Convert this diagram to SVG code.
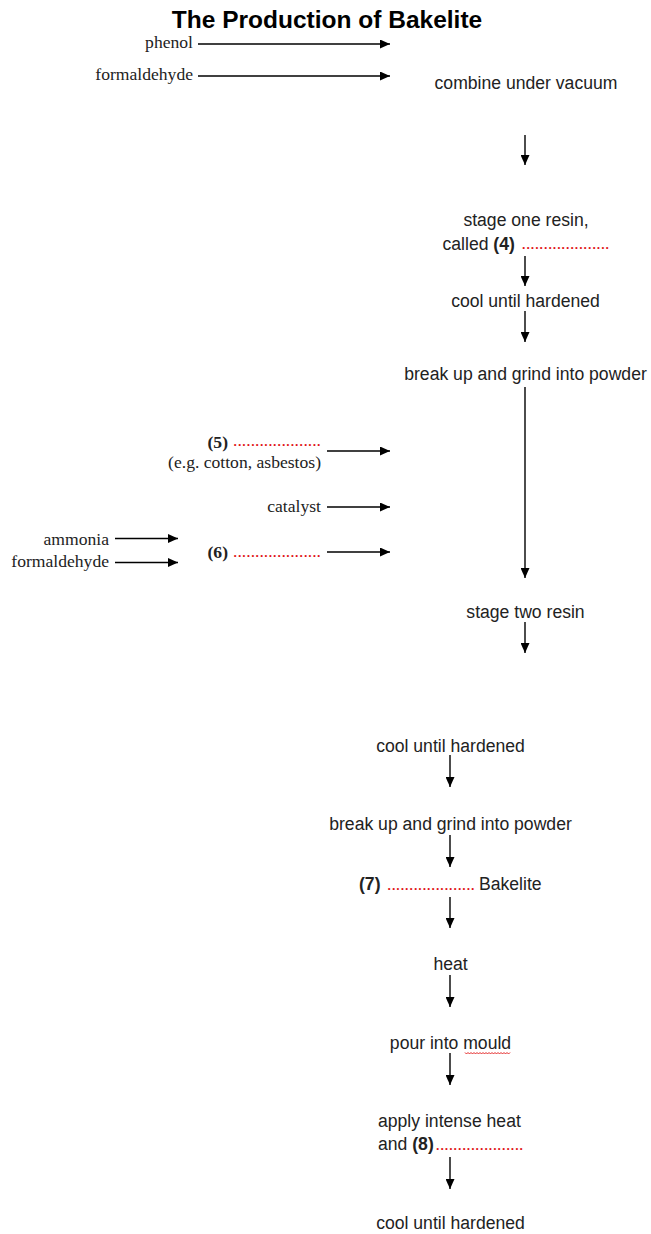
<svg xmlns="http://www.w3.org/2000/svg" width="651" height="1234" viewBox="0 0 651 1234">
<style>
.s{font-family:"Liberation Sans",Arial,sans-serif;font-size:17.6px;fill:#222}
.m{text-anchor:middle}
.e{text-anchor:end}
.b{font-weight:bold}
.r{font-family:"Liberation Serif","Times New Roman",serif;font-size:17.6px;fill:#222}
.d{font-family:"Liberation Serif","Times New Roman",serif;font-size:17.6px;fill:#e01010}
.t{font-family:"Liberation Sans",Arial,sans-serif;font-size:24.5px;font-weight:bold;fill:#000}
.c line{stroke:#000;stroke-width:1.4;marker-end:url(#ah)}
</style>
<defs>
<marker id="ah" markerUnits="userSpaceOnUse" markerWidth="10" markerHeight="9" refX="10" refY="4.5" orient="auto">
<path d="M0,0 L10,4.5 L0,9 z" fill="#000"/>
</marker>
</defs>
<rect width="651" height="1234" fill="#fff"/>
<g id="title"><text class="t m" x="327" y="27.5">The Production of Bakelite</text></g>

<g id="phenol"><text class="r e" x="193" y="48">phenol</text></g>
<g id="formaldehyde1"><text class="r e" x="193" y="80">formaldehyde</text></g>
<g id="combine"><text class="s m" x="526" y="89">combine under vacuum</text></g>
<g id="stage1"><text class="s m" x="526" y="226">stage one resin,</text>
<text class="s" x="442.5" y="250">called <tspan class="b">(4)</tspan></text>
<text class="d" x="521.5" y="249">....................</text></g>
<g id="cool1"><text class="s m" x="525.5" y="307">cool until hardened</text></g>
<g id="grind1"><text class="s m" x="525.5" y="380">break up and grind into powder</text></g>
<g id="filler"><text class="r b e" x="228" y="448">(5)</text>
<text class="d e" x="321" y="446">....................</text>
<text class="r e" x="321" y="468">(e.g. cotton, asbestos)</text></g>
<g id="catalyst"><text class="r e" x="321" y="511.5">catalyst</text></g>
<g id="ammonia"><text class="r e" x="109" y="545">ammonia</text></g>
<g id="formaldehyde2"><text class="r e" x="109" y="567">formaldehyde</text></g>
<g id="hardener"><text class="r b e" x="228" y="558">(6)</text>
<text class="d e" x="321" y="556.5">....................</text></g>
<g id="stage2"><text class="s m" x="525.5" y="618">stage two resin</text></g>
<g id="cool2"><text class="s m" x="450.5" y="752">cool until hardened</text></g>
<g id="grind2"><text class="s m" x="450.5" y="830">break up and grind into powder</text></g>
<g id="bakelite"><text class="s b" x="359" y="890">(7)</text>
<text class="d" x="387" y="889.5">....................</text>
<text class="s" x="479" y="890">Bakelite</text></g>
<g id="heat"><text class="s m" x="450.5" y="970">heat</text></g>
<g id="mould"><text class="s m" x="450.5" y="1049">pour into mould</text>
<path d="M465,1052.5 l1.5,1.5 l1.5,-1.5 l1.5,1.5 l1.5,-1.5 l1.5,1.5 l1.5,-1.5 l1.5,1.5 l1.5,-1.5 l1.5,1.5 l1.5,-1.5 l1.5,1.5 l1.5,-1.5 l1.5,1.5 l1.5,-1.5 l1.5,1.5 l1.5,-1.5 l1.5,1.5 l1.5,-1.5 l1.5,1.5 l1.5,-1.5 l1.5,1.5 l1.5,-1.5 l1.5,1.5 l1.5,-1.5 l1.5,1.5 l1.5,-1.5 l1.5,1.5 l1.5,-1.5 l1.5,1.5 l1.5,-1.5" fill="none" stroke="#e01010" stroke-width="0.9"/></g>
<g id="pressure"><text class="s" x="378" y="1127">apply intense heat</text>
<text class="s" x="378" y="1150">and <tspan class="b">(8)</tspan></text>
<text class="d" x="435.5" y="1149.5">....................</text></g>
<g id="cool3"><text class="s m" x="450.5" y="1229">cool until hardened</text></g>

<g id="connectors" class="c">
<line x1="198" y1="44" x2="390" y2="44"/>
<line x1="198" y1="76" x2="390" y2="76"/>
<line x1="525" y1="135" x2="525" y2="165"/>
<line x1="525" y1="256" x2="525" y2="286"/>
<line x1="525" y1="311" x2="525" y2="342"/>
<line x1="525" y1="387" x2="525" y2="578"/>
<line x1="327" y1="451" x2="390" y2="451"/>
<line x1="327" y1="507" x2="390" y2="507"/>
<line x1="327" y1="552" x2="390" y2="552"/>
<line x1="115" y1="538.5" x2="178" y2="538.5"/>
<line x1="115" y1="562.5" x2="178" y2="562.5"/>
<line x1="525" y1="622" x2="525" y2="653"/>
<line x1="450" y1="755" x2="450" y2="787"/>
<line x1="450" y1="835" x2="450" y2="867"/>
<line x1="450" y1="897" x2="450" y2="928"/>
<line x1="450" y1="975" x2="450" y2="1007"/>
<line x1="450" y1="1053" x2="450" y2="1085"/>
<line x1="450" y1="1157" x2="450" y2="1189"/>
</g>
</svg>
